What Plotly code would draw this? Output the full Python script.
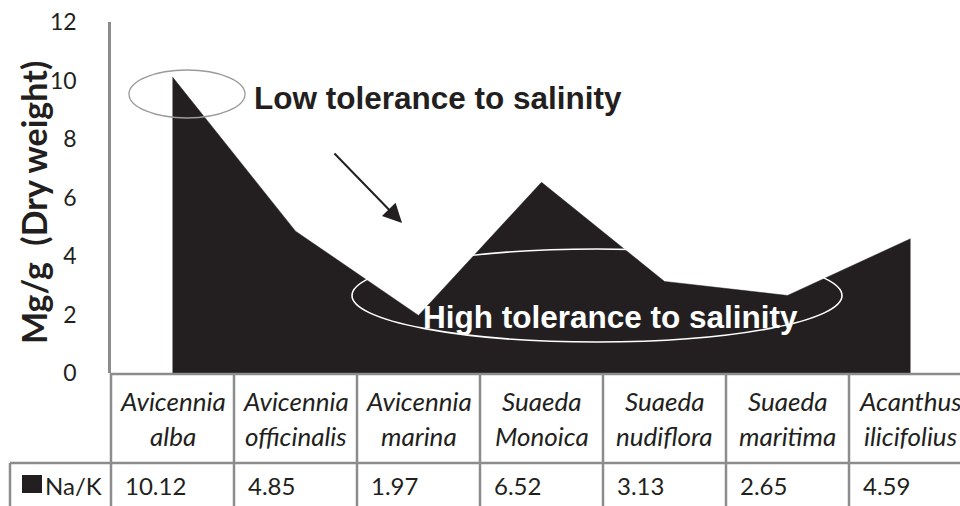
import plotly.graph_objects as go

# ---------------- data ----------------
categories = ["Avicennia alba", "Avicennia officinalis", "Avicennia marina",
              "Suaeda Monoica", "Suaeda nudiflora", "Suaeda maritima",
              "Acanthus ilicifolius"]
series_name = "Na/K"
na_k_values = [10.12, 4.85, 1.97, 6.52, 3.13, 2.65, 4.59]
y_ticks = [0, 2, 4, 6, 8, 10, 12]
y_title = "Mg/g  (Dry weight)"
low_label = "Low tolerance to salinity"
high_label = "High tolerance to salinity"

# ---------------- layout geometry ----------------
W, H = 960, 506
ML, MT, MB = 111, 22, 133
plot_w = W - ML
plot_h = H - MT - MB
col_w = 123.0
x_min = -0.5
x_max = x_min + plot_w / col_w
y_max = 12

DARK = "#231f20"
GRID = "#8c8c8c"
BODY_FONT = "Lato, Carlito, 'Open Sans', sans-serif"
ARIAL = "'Liberation Sans', Arial, sans-serif"


def px_to_paper_y(p):
    return (H - MB - p) / plot_h


def px_to_paper_x(p):
    return (p - ML) / plot_w


def dx_to_paper(x):
    return (x - x_min) / (x_max - x_min)


def px_to_data_x(p):
    return (p - ML) / col_w + x_min


def px_to_data_y(p):
    return (H - MB - p) / plot_h * y_max


xs = list(range(len(categories)))

fig = go.Figure()
fig.add_trace(go.Scatter(
    x=xs, y=na_k_values, mode="lines", fill="tozeroy",
    fillcolor=DARK, line=dict(color=DARK, width=0.5),
    name=series_name, hoverinfo="x+y"))

shapes = []
annotations = []

# ---- data table grid ----
table_top = H - MB + 1
row_split = 463
table_bottom = H + 5
line_style = dict(color=GRID, width=2.5)
shapes.append(dict(type="line", xref="paper", yref="paper",
                   x0=dx_to_paper(-0.5), x1=1.0,
                   y0=px_to_paper_y(table_top), y1=px_to_paper_y(table_top),
                   line=line_style, layer="above"))
shapes.append(dict(type="line", xref="paper", yref="paper",
                   x0=px_to_paper_x(10), x1=1.0,
                   y0=px_to_paper_y(row_split), y1=px_to_paper_y(row_split),
                   line=line_style))
for i in range(len(categories)):
    xb = dx_to_paper(i - 0.5)
    shapes.append(dict(type="line", xref="paper", yref="paper",
                       x0=xb, x1=xb,
                       y0=px_to_paper_y(table_top) if i else 0,
                       y1=px_to_paper_y(table_bottom),
                       line=line_style))
shapes.append(dict(type="line", xref="paper", yref="paper",
                   x0=px_to_paper_x(10), x1=px_to_paper_x(10),
                   y0=px_to_paper_y(row_split), y1=px_to_paper_y(table_bottom),
                   line=line_style))

# legend key square in table
shapes.append(dict(type="rect", xref="paper", yref="paper",
                   x0=px_to_paper_x(22), x1=px_to_paper_x(42),
                   y0=px_to_paper_y(493), y1=px_to_paper_y(475),
                   fillcolor=DARK, line=dict(width=0)))
annotations.append(dict(text=series_name, xref="paper", yref="paper",
                        x=px_to_paper_x(43), y=px_to_paper_y(486),
                        xanchor="left", yanchor="middle", showarrow=False,
                        font=dict(family=BODY_FONT, size=24, color=DARK)))

# category labels (two lines each)
for i, name in enumerate(categories):
    parts = name.split(" ", 1)
    for j, part in enumerate(parts):
        annotations.append(dict(
            text="<i>" + part + "</i>", xref="x", yref="paper",
            x=i, y=px_to_paper_y(401 + 35 * j),
            xanchor="center", yanchor="middle", showarrow=False,
            font=dict(family=BODY_FONT, size=26, color=DARK)))

# values row
for i, v in enumerate(na_k_values):
    annotations.append(dict(
        text=f"{v:.2f}", xref="x", yref="paper",
        x=i - 0.5 + 12 / col_w, y=px_to_paper_y(486),
        xanchor="left", yanchor="middle", showarrow=False,
        font=dict(family=BODY_FONT, size=24, color=DARK)))

# ---- callouts ----
shapes.append(dict(type="circle", xref="x", yref="y",
                   x0=px_to_data_x(129), x1=px_to_data_x(245),
                   y0=px_to_data_y(118), y1=px_to_data_y(70),
                   line=dict(color="#9a9a9a", width=1.3)))
shapes.append(dict(type="circle", xref="x", yref="y",
                   x0=px_to_data_x(352), x1=px_to_data_x(842),
                   y0=px_to_data_y(342), y1=px_to_data_y(249),
                   line=dict(color="white", width=1.6)))

annotations.append(dict(text="<b>" + low_label + "</b>", xref="x", yref="y",
                        x=px_to_data_x(252), y=px_to_data_y(98),
                        xanchor="left", yanchor="middle", showarrow=False,
                        font=dict(family=ARIAL, size=31.5, color=DARK)))
annotations.append(dict(text="<b>" + high_label + "</b>", xref="x", yref="y",
                        x=px_to_data_x(421), y=px_to_data_y(317),
                        xanchor="left", yanchor="middle", showarrow=False,
                        font=dict(family=ARIAL, size=31.5, color="white")))
annotations.append(dict(text="", xref="x", yref="y",
                        x=px_to_data_x(402), y=px_to_data_y(223),
                        ax=333 - 402, ay=152 - 223,
                        showarrow=True, arrowhead=2, arrowsize=1.9,
                        arrowwidth=2, arrowcolor=DARK))

# y-axis title
annotations.append(dict(text="<b>" + y_title + "</b>", xref="paper", yref="paper",
                        x=px_to_paper_x(33), y=px_to_paper_y(203),
                        xanchor="center", yanchor="middle", showarrow=False,
                        textangle=-90,
                        font=dict(family=BODY_FONT, size=34, color=DARK)))

fig.update_layout(
    width=W, height=H,
    margin=dict(l=ML, r=0, t=MT, b=MB, pad=0),
    plot_bgcolor="white", paper_bgcolor="white",
    showlegend=False,
    shapes=shapes, annotations=annotations,
    xaxis=dict(range=[x_min, x_max], visible=False, fixedrange=True),
    yaxis=dict(range=[0, y_max], tickvals=y_ticks,
               showline=True, linecolor=GRID, linewidth=2.5,
               showgrid=False, zeroline=False,
               ticks="outside", ticklen=27, tickcolor="rgba(0,0,0,0)",
               tickfont=dict(family=BODY_FONT, size=23, color=DARK),
               fixedrange=True),
)

fig.write_html(
    "out.html",
    config={"displayModeBar": False},
    post_script="document.body.style.margin='0px';"
                "document.body.style.overflow='hidden';",
)
